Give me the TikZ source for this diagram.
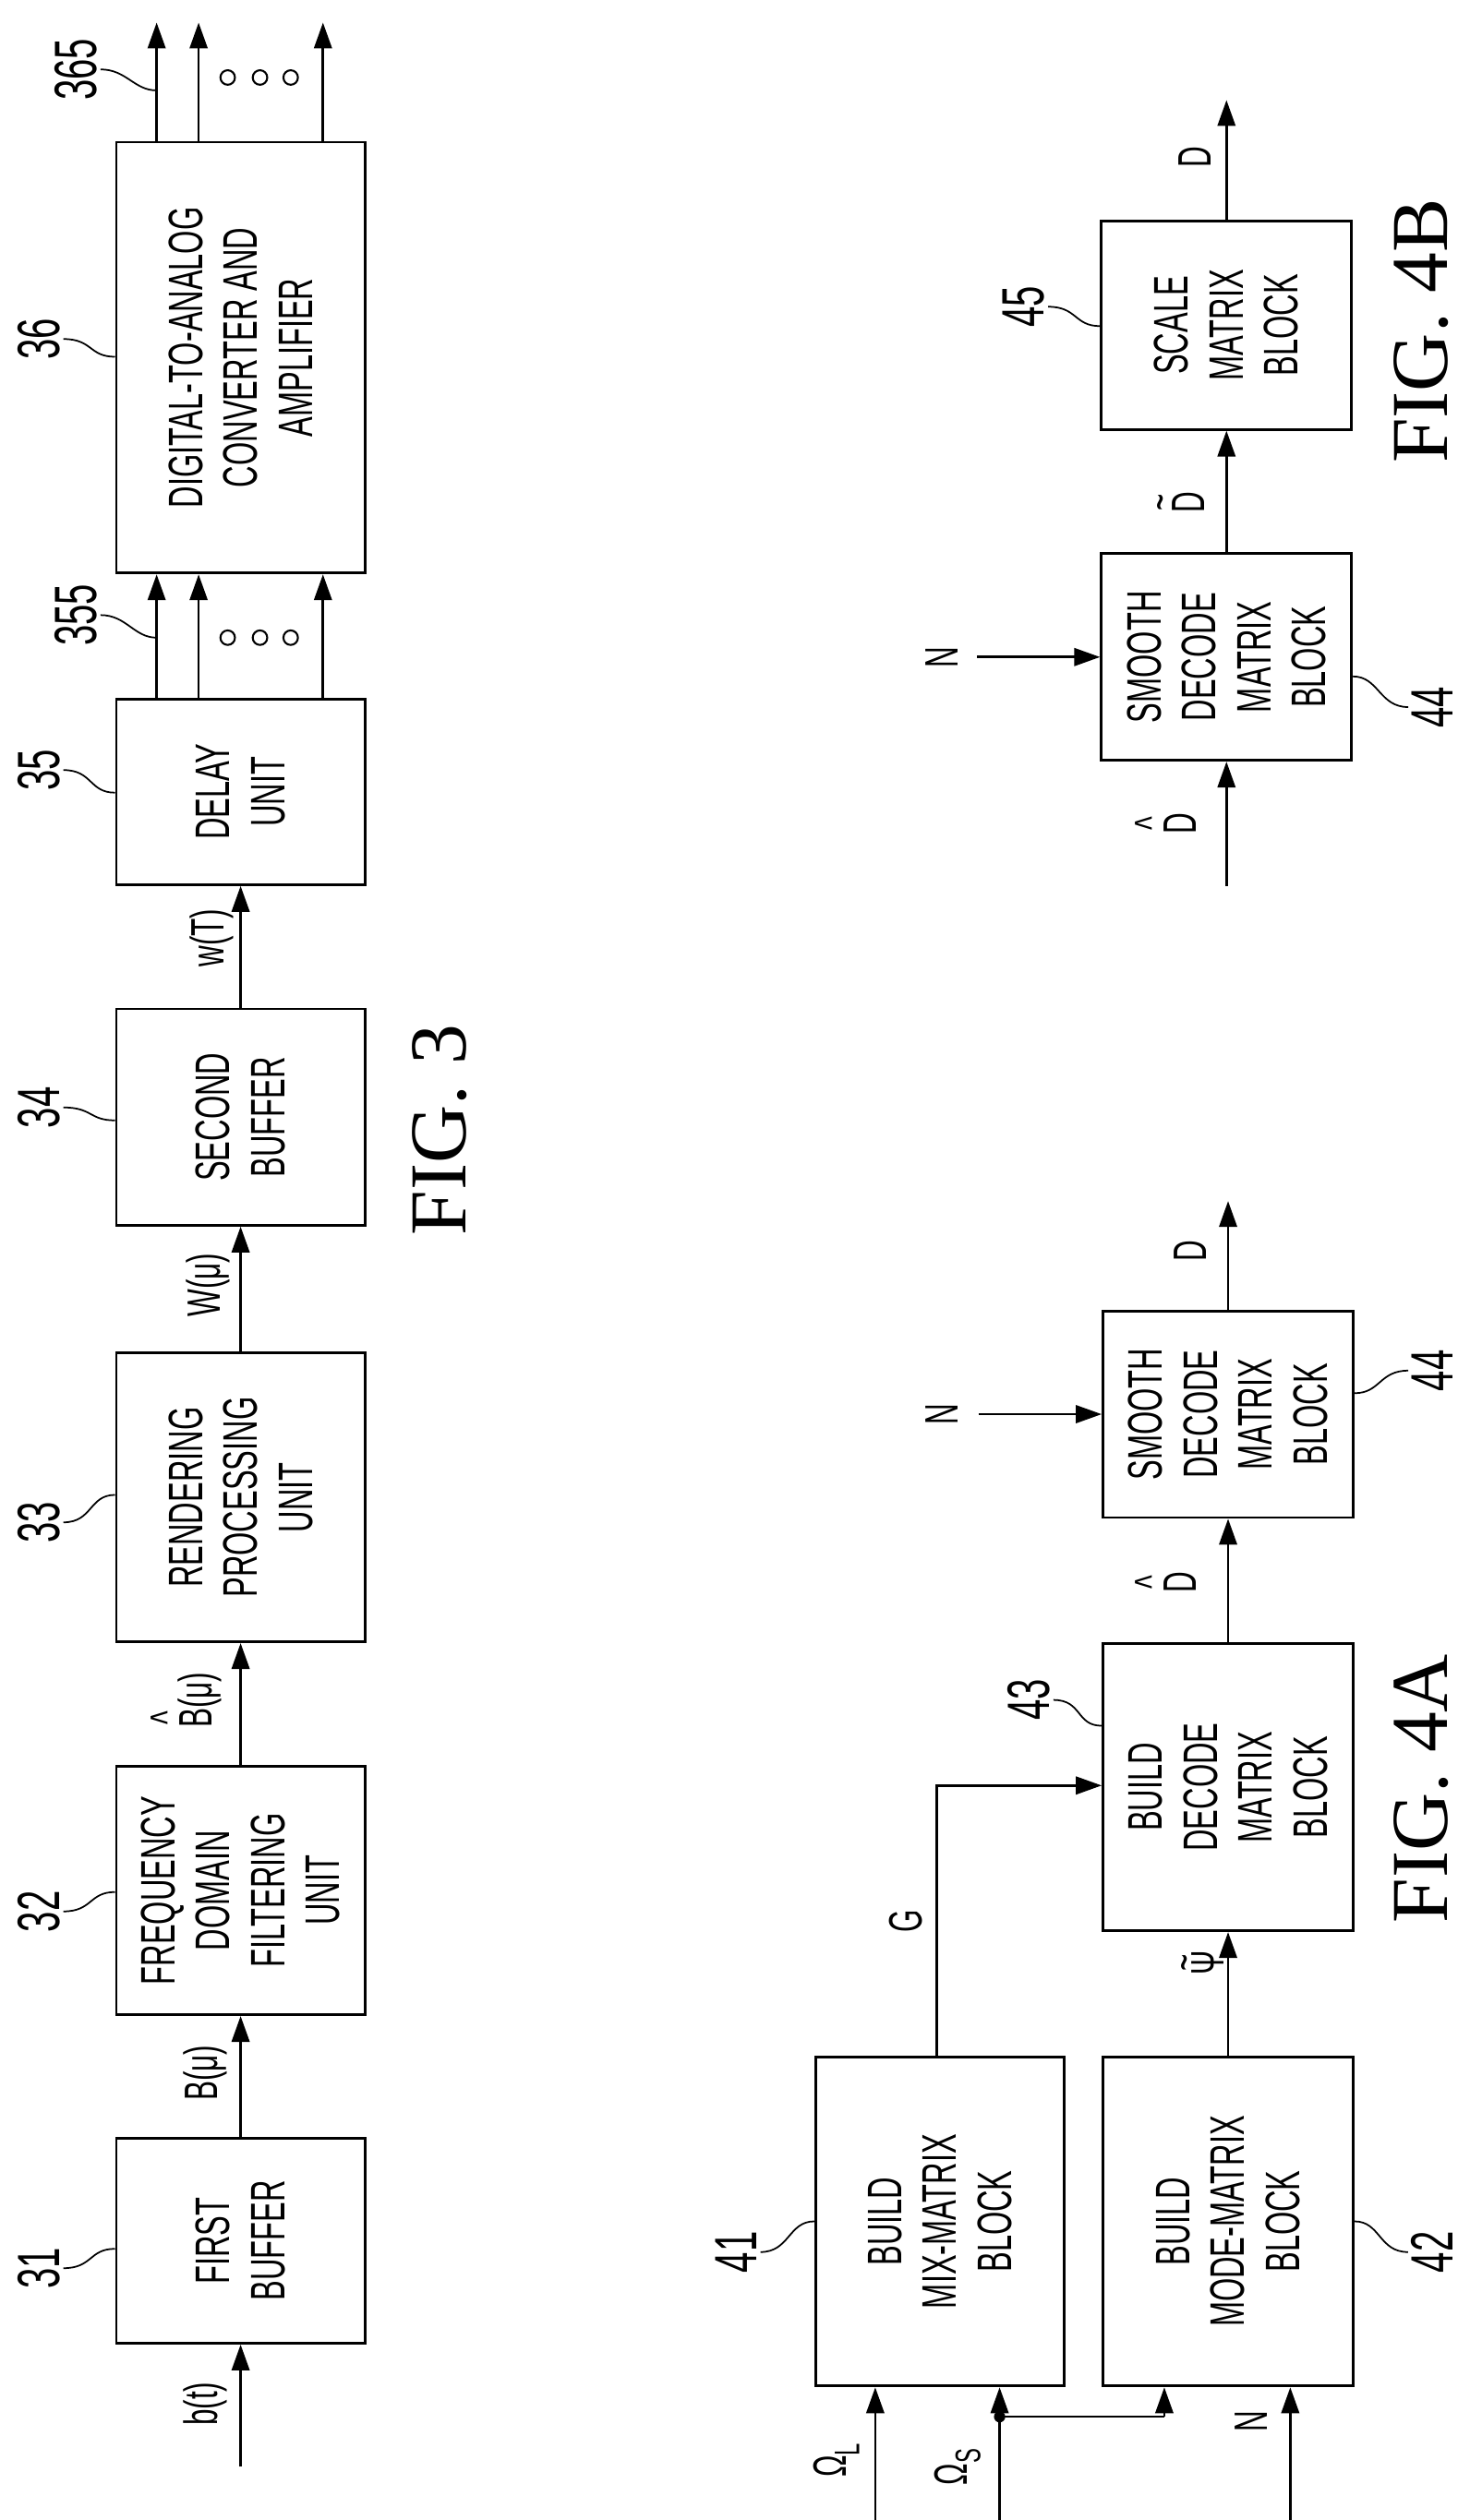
\documentclass[tikz,border=0pt]{standalone}
\usepackage{fontspec}
\setmainfont{Liberation Serif}
\newfontfamily\nar[FakeStretch=0.62]{Liberation Sans}
\usetikzlibrary{arrows.meta,calc}
\newcommand{\accon}[2]{{\ooalign{#2\cr\hidewidth\raisebox{0.62em}{#1}\hidewidth\cr}}}
\tikzset{
 box/.style={draw,line width=1.6pt,rotate=90,align=center,font=\nar\fontsize{30}{34}\selectfont,inner sep=0pt},
 sig/.style={rotate=90,font=\nar\fontsize{29}{30}\selectfont,inner sep=1pt},
 num/.style={rotate=90,font=\nar\fontsize{37}{37}\selectfont,inner sep=2pt},
 fig/.style={rotate=90,font=\fontsize{50}{50}\selectfont,inner sep=0pt},
 ar/.style={line width=1.5pt,-{Triangle[length=16pt,width=11pt]}},
 ln/.style={line width=1.5pt},
 lead/.style={line width=1pt},
 dots/.style={circle,draw,line width=1.2pt,minimum size=9pt,inner sep=0pt},
}
\begin{document}
\begin{tikzpicture}[x=1pt,y=-1pt]
\useasboundingbox (0,0) rectangle (910,1561);
% ---------- FIG. 3 ----------
\node[box,minimum width=127pt,minimum height=154pt] (b31) at (149,1388) {FIRST\\BUFFER};
\node[box,minimum width=154pt,minimum height=154pt] (b32) at (149,1171) {FREQUENCY\\DOMAIN\\FILTERING\\UNIT};
\node[box,minimum width=179pt,minimum height=154pt] (b33) at (149,927.5) {RENDERING\\PROCESSING\\UNIT};
\node[box,minimum width=134pt,minimum height=154pt] (b34) at (149,692) {SECOND\\BUFFER};
\node[box,minimum width=115pt,minimum height=154pt] (b35) at (149,490.5) {DELAY\\UNIT};
\node[box,minimum width=267pt,minimum height=154pt] (b36) at (149,221.5) {DIGITAL-TO-ANALOG\\CONVERTER AND\\AMPLIFIER};
\coordinate (in31) at (149,1528);
\draw[ar] (in31) -- (b31.west);
\draw[ar] (b31.east) -- (b32.west);
\draw[ar] (b32.east) -- (b33.west);
\draw[ar] (b33.east) -- (b34.west);
\draw[ar] (b34.east) -- (b35.west);
\foreach \xx/\nm in {97/a,123/b,200/c}{
  \draw[ar] (\xx,0 |- b35.east) -- (\xx,0 |- b36.west);
  \coordinate (o\nm) at (\xx,14);
  \draw[ar] (\xx,0 |- b36.east) -- (o\nm);
}
\foreach \xx in {141,161,180}{
  \node[dots] at (\xx,395) {};
  \node[dots] at (\xx,48) {};
}
\node[sig] (sbt) at (127,1489) {b(t)};
\node[sig] (sbm) at (127,1284) {B(μ)};
\node[sig] (sbh) at (124,1053) {\accon{\^{}}{B}(μ)};
\node[sig] (swm) at (129,796) {W(μ)};
\node[sig] (swt) at (131,581) {w(T)};
\node[num] (l31) at (24,1405) {31};
\node[num] (l32) at (24,1184) {32};
\node[num] (l33) at (24,943) {33};
\node[num] (l34) at (24,686) {34};
\node[num] (l35) at (24,477) {35};
\node[num] (l36) at (24,210) {36};
\node[num] (l355) at (47,381) {355};
\node[num] (l365) at (47,43) {365};
\draw[lead] (l31.south) .. controls +(18,0) and +(-16,0) .. (b31.north |- 0,1393);
\draw[lead] (l32.south) .. controls +(18,0) and +(-16,0) .. (b32.north |- 0,1172);
\draw[lead] (l33.south) .. controls +(18,0) and +(-16,0) .. (b33.north |- 0,926);
\draw[lead] (l34.south) .. controls +(18,0) and +(-16,0) .. (b34.north |- 0,694);
\draw[lead] (l35.south) .. controls +(18,0) and +(-16,0) .. (b35.north |- 0,491);
\draw[lead] (l36.south) .. controls +(18,0) and +(-16,0) .. (b36.north |- 0,221);
\coordinate (t355) at (97,395);
\coordinate (t365) at (97,56);
\draw[lead] (l355.south) .. controls +(16,0) and +(-14,0) .. (t355);
\draw[lead] (l365.south) .. controls +(16,0) and +(-14,0) .. (t365);
\node[fig] (f3) at (272,700) {FIG. 3};
% ---------- FIG. 4A ----------
\node[box,minimum width=204pt,minimum height=154pt] (b41) at (582,1376) {BUILD\\MIX-MATRIX\\BLOCK};
\node[box,minimum width=204pt,minimum height=155pt] (b42) at (760.5,1376) {BUILD\\MODE-MATRIX\\BLOCK};
\node[box,minimum width=178pt,minimum height=155pt] (b43) at (760.5,1107) {BUILD\\DECODE\\MATRIX\\BLOCK};
\node[box,minimum width=128pt,minimum height=155pt] (b44) at (760.5,876) {SMOOTH\\DECODE\\MATRIX\\BLOCK};
\coordinate (iL) at (542,1561);
\coordinate (iS) at (619,1561);
\coordinate (iN) at (799,1561);
\coordinate (jS) at (619,1497);
\coordinate (kS) at (721,1497);
\draw[ar] (iL) -- (542,0 |- b41.west);
\draw[ar] (iS) -- (619,0 |- b41.west);
\fill (jS) circle (3.5pt);
\draw[ln] (jS) -- (kS);
\draw[ar] (kS) -- (721,0 |- b42.west);
\draw[ar] (iN) -- (799,0 |- b42.west);
\coordinate (gC) at (580,1106);
\draw[ar] (580,0 |- b41.east) -- (gC) -- (b43.north |- gC);
\draw[ar] (b42.east) -- (b43.west);
\draw[ar] (b43.east) -- (b44.west);
\coordinate (nA) at (606,876);
\draw[ar] (nA) -- (b44.north);
\coordinate (oA) at (760.5,744);
\draw[ar] (b44.east) -- (oA);
\node[sig] (sG) at (561,1190) {G};
\node[sig] (sPsi) at (748,1216) {\accon{\raisebox{-3pt}{\textasciitilde}}{Ψ}};
\node[sig] (sDh) at (731,980) {\accon{\^{}}{D}};
\node[sig] (sN1) at (583,876) {N};
\node[sig] (sD1) at (737,775) {D};
\node[sig] (sOL) at (518,1524) {Ω\raisebox{-8pt}{\fontsize{22}{22}\selectfont L}};
\node[sig] (sOS) at (593,1528) {Ω\raisebox{-8pt}{\fontsize{22}{22}\selectfont S}};
\node[sig] (sN2) at (775,1500) {N};
\node[num] (l41) at (456,1395) {41};
\node[num] (l42) at (887,1395) {42};
\node[num] (l43) at (637,1053) {43};
\node[num] (l44) at (887,849) {44};
\draw[lead] (l41.south) .. controls +(18,0) and +(-16,0) .. (b41.north |- 0,1376);
\draw[lead] (b42.south |- 0,1376) .. controls +(16,0) and +(-18,0) .. (l42.north);
\draw[lead] (l43.south) .. controls +(18,0) and +(-16,0) .. (b43.north |- 0,1069);
\draw[lead] (b44.south |- 0,863) .. controls +(16,0) and +(-18,0) .. (l44.north);
\node[fig] (f4a) at (880,1108) {FIG. 4A};
% ---------- FIG. 4B ----------
\node[box,minimum width=128pt,minimum height=155pt] (c44) at (759.5,407) {SMOOTH\\DECODE\\MATRIX\\BLOCK};
\node[box,minimum width=129pt,minimum height=155pt] (c45) at (759.5,201.5) {SCALE\\MATRIX\\BLOCK};
\coordinate (iB) at (759.5,549);
\draw[ar] (iB) -- (c44.west);
\coordinate (nB) at (605,407);
\draw[ar] (nB) -- (c44.north);
\draw[ar] (c44.east) -- (c45.west);
\coordinate (oB) at (759.5,62);
\draw[ar] (c45.east) -- (oB);
\node[sig] (tDh) at (731,510) {\accon{\^{}}{D}};
\node[sig] (tN) at (583,407) {N};
\node[sig] (tDt) at (736,311) {\accon{\textasciitilde}{D}};
\node[sig] (tD) at (740,97) {D};
\node[num] (l45) at (634,190) {45};
\node[num] (m44) at (887,438) {44};
\draw[lead] (l45.south) .. controls +(18,0) and +(-16,0) .. (c45.north |- 0,202);
\draw[lead] (c44.south |- 0,419) .. controls +(16,0) and +(-18,0) .. (m44.north);
\node[fig] (f4b) at (880,205) {FIG. 4B};
\end{tikzpicture}
\end{document}
